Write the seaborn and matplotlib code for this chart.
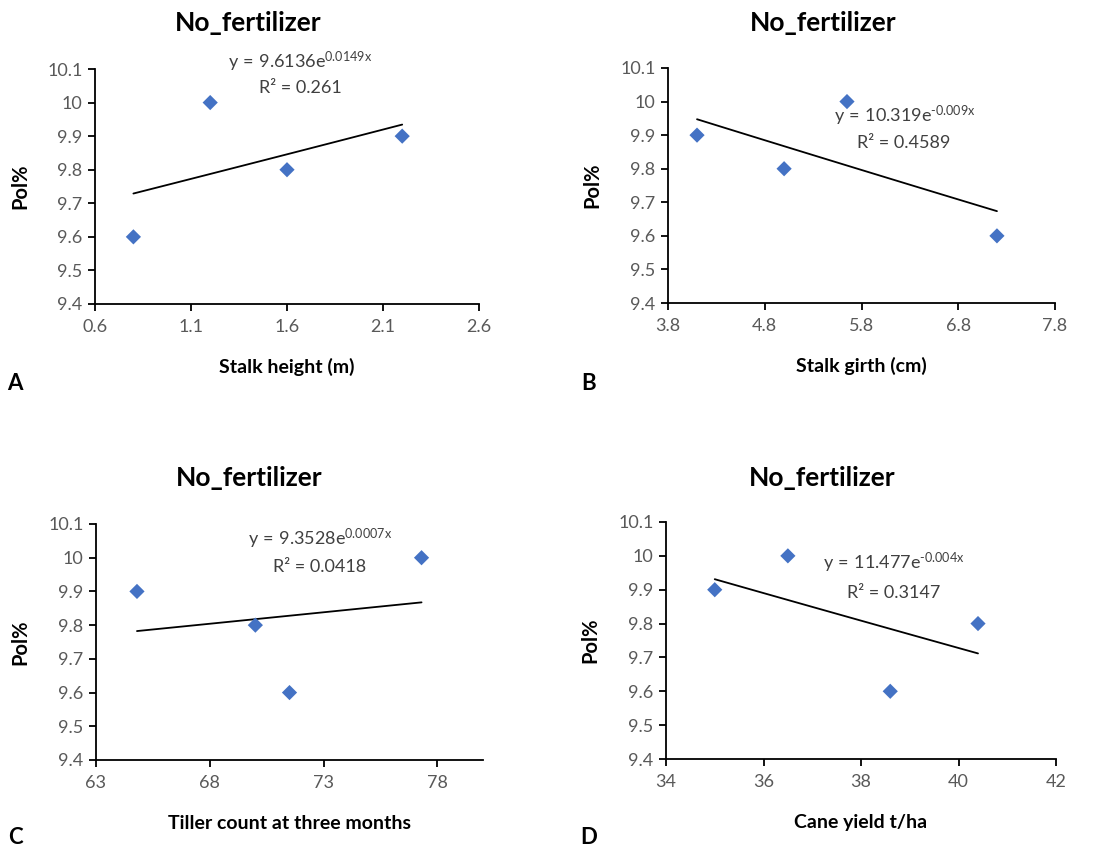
import numpy as np
import matplotlib
matplotlib.use("Agg")
import matplotlib.pyplot as plt
import seaborn as sns

# ---- data ----
pol = {
    "A": [9.6, 10.0, 9.8, 9.9],
    "B": [9.9, 9.8, 10.0, 9.6],
    "C": [9.9, 9.8, 9.6, 10.0],
    "D": [9.9, 10.0, 9.6, 9.8],
}
stalk_height = [0.8, 1.2, 1.6, 2.2]
stalk_girth = [4.1, 5.0, 5.65, 7.2]
tiller_count = [64.8, 70.0, 71.5, 77.3]
cane_yield = [35.0, 36.5, 38.6, 40.4]

x_labels = ["Stalk height (m)", "Stalk girth (cm)", "Tiller count at three months", "Cane yield t/ha"]
panel_letters = ["A", "B", "C", "D"]
title_text = "No_fertilizer"
equations = [r"$\mathregular{y\,=\,9.6136e^{0.0149x}}$",
             r"$\mathregular{y\,=\,10.319e^{\text{-}0.009x}}$",
             r"$\mathregular{y\,=\,9.3528e^{0.0007x}}$",
             r"$\mathregular{y\,=\,11.477e^{\text{-}0.004x}}$"]
r2_texts = ["R² = 0.261", "R² = 0.4589", "R² = 0.0418", "R² = 0.3147"]

x_ticks = [[0.6, 1.1, 1.6, 2.1, 2.6], [3.8, 4.8, 5.8, 6.8, 7.8], [63, 68, 73, 78], [34, 36, 38, 40, 42]]
x_tick_labels = [["0.6", "1.1", "1.6", "2.1", "2.6"], ["3.8", "4.8", "5.8", "6.8", "7.8"],
                 ["63", "68", "73", "78"], ["34", "36", "38", "40", "42"]]
x_limits = [(0.6, 2.6), (3.8, 7.8), (63, 80), (34, 42)]
y_ticks = [9.4, 9.5, 9.6, 9.7, 9.8, 9.9, 10.0, 10.1]
y_tick_labels = ["9.4", "9.5", "9.6", "9.7", "9.8", "9.9", "10", "10.1"]

sns.set_theme(style="white")
plt.rcParams["font.family"] = ["Lato", "DejaVu Sans"]
plt.rcParams["mathtext.fontset"] = "custom"
plt.rcParams["mathtext.rm"] = "Lato"
plt.rcParams["mathtext.it"] = "Lato"

W, H = 1114, 850
fig = plt.figure(figsize=(W / 100, H / 100), dpi=100)

# axes boxes in pixels: left, top, right, bottom
boxes = [(95, 69, 479, 304), (668, 68, 1055, 303), (96, 524, 483, 760), (666, 522, 1056, 759)]
title_pos = [(248, 23), (823, 23), (249, 478), (822, 478)]
letter_pos = [(15, 384), (589, 384), (15, 838), (589, 837)]
eq_pos = [(300, 62), (905, 116), (320, 539), (894, 563)]
r2_pos = [(300, 88), (904, 143), (320, 567), (894, 593)]

xs_data = [stalk_height, stalk_girth, tiller_count, cane_yield]
keys = ["A", "B", "C", "D"]

for i in range(4):
    l, t, r, b = boxes[i]
    ax = fig.add_axes([l / W, 1 - b / H, (r - l) / W, (b - t) / H])
    x = np.array(xs_data[i])
    y = np.array(pol[keys[i]])
    # exponential trendline fit
    slope, inter = np.polyfit(x, np.log(y), 1)
    xf = np.linspace(x.min(), x.max(), 50)
    yf = np.exp(inter) * np.exp(slope * xf)
    sns.lineplot(x=xf, y=yf, color="black", linewidth=1.3, ax=ax)
    sns.scatterplot(x=x, y=y, marker="D", color="#4472C4", s=60, edgecolor="none", ax=ax, zorder=3)

    ax.set_xlim(*x_limits[i])
    ax.set_ylim(9.4, 10.1)
    ax.set_xticks(x_ticks[i])
    ax.set_xticklabels(x_tick_labels[i])
    ax.set_yticks(y_ticks)
    ax.set_yticklabels(y_tick_labels)
    for s in ["top", "right"]:
        ax.spines[s].set_visible(False)
    for s in ["left", "bottom"]:
        ax.spines[s].set_color("black")
        ax.spines[s].set_linewidth(1.3)
    ax.tick_params(axis="both", which="major", direction="out", length=5, width=1.3,
                   color="black", labelsize=13, labelcolor="#595959", bottom=True, left=True)
    ax.tick_params(axis="x", pad=6)
    ax.tick_params(axis="y", pad=4)
    ax.grid(False)

    ax.set_xlabel(x_labels[i], fontsize=14, fontweight="bold", color="black")
    ax.xaxis.set_label_coords(0.5, -0.267)
    ax.xaxis.label.set_va("center")
    ax.set_ylabel("Pol%", fontsize=14.5, fontweight="bold", color="black")
    ax.yaxis.set_label_coords(-0.195, 0.5)
    ax.yaxis.label.set_va("center")

    fig.text(title_pos[i][0] / W, 1 - title_pos[i][1] / H, title_text, ha="center", va="center",
             fontsize=19, fontweight="bold", color="black")
    fig.text(letter_pos[i][0] / W, 1 - letter_pos[i][1] / H, panel_letters[i], ha="center", va="center",
             fontsize=16, fontweight="bold", color="black")
    fig.text(eq_pos[i][0] / W, 1 - eq_pos[i][1] / H, equations[i], ha="center", va="center",
             fontsize=13, color="#404040")
    fig.text(r2_pos[i][0] / W, 1 - r2_pos[i][1] / H, r2_texts[i], ha="center", va="center",
             fontsize=13, color="#404040")

fig.savefig("out.png", dpi=100)
